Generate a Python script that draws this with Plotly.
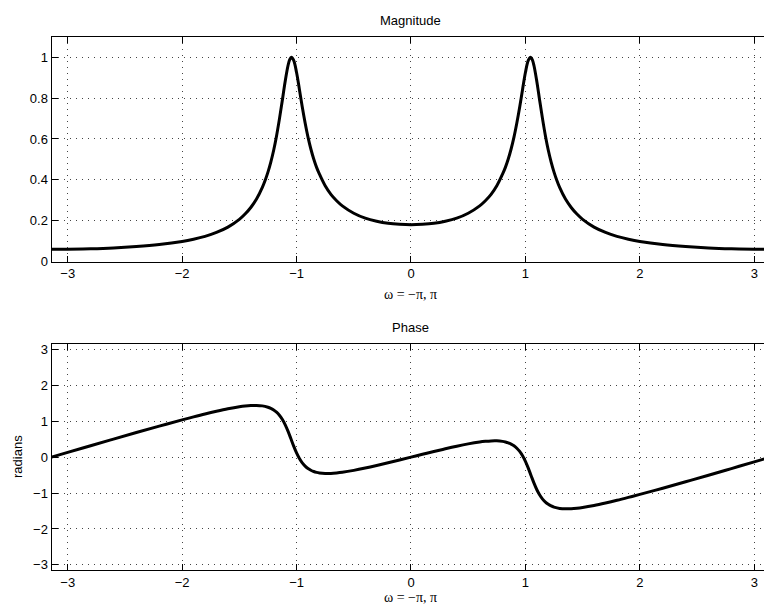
import plotly.graph_objects as go

# Magnitude (normalized)
omega_mag = [-3.1416, -3.0, -2.8, -2.6, -2.4, -2.2, -2.0, -1.9, -1.8, -1.7, -1.6, -1.5, -1.45, -1.4,
             -1.35, -1.3, -1.275, -1.25, -1.225, -1.2, -1.175, -1.15, -1.125, -1.1, -1.075, -1.06,
             -1.045, -1.025, -1.0, -0.975, -0.95, -0.925, -0.9, -0.875, -0.85, -0.825, -0.8, -0.75,
             -0.7, -0.65, -0.6, -0.5, -0.4, -0.3, -0.2, -0.1, 0.0,
             0.1, 0.2, 0.3, 0.4, 0.5, 0.6, 0.65, 0.7, 0.75, 0.8, 0.825, 0.85, 0.875, 0.9, 0.925,
             0.95, 0.975, 1.0, 1.025, 1.045, 1.06, 1.075, 1.1, 1.125, 1.15, 1.175, 1.2, 1.225,
             1.25, 1.275, 1.3, 1.35, 1.4, 1.45, 1.5, 1.6, 1.7, 1.8, 1.9, 2.0, 2.2, 2.4, 2.6, 2.8,
             3.0, 3.1416]
magnitude = [0.061, 0.061, 0.063, 0.067, 0.074, 0.084, 0.099, 0.110, 0.124, 0.143, 0.169, 0.207, 0.233, 0.265,
             0.306, 0.362, 0.397, 0.438, 0.487, 0.545, 0.615, 0.697, 0.787, 0.880, 0.958, 0.988,
             1.0, 0.984, 0.925, 0.842, 0.756, 0.678, 0.609, 0.551, 0.502, 0.461, 0.428, 0.371,
             0.329, 0.298, 0.273, 0.237, 0.213, 0.198, 0.188, 0.183, 0.181,
             0.183, 0.188, 0.198, 0.213, 0.237, 0.273, 0.298, 0.329, 0.371, 0.428, 0.461, 0.502, 0.551, 0.609, 0.678,
             0.756, 0.842, 0.925, 0.984, 1.0, 0.988, 0.958, 0.880, 0.787, 0.697, 0.615, 0.545, 0.487,
             0.438, 0.397, 0.362, 0.306, 0.265, 0.233, 0.207, 0.169, 0.143, 0.124, 0.110, 0.099, 0.084, 0.074, 0.067, 0.063,
             0.061, 0.061]

# Phase (radians)
omega_phase = [-3.1416, -3.0, -2.8, -2.6, -2.4, -2.2, -2.0, -1.9, -1.8, -1.7, -1.6, -1.5, -1.45, -1.4,
               -1.35, -1.3, -1.25, -1.225, -1.2, -1.175, -1.15, -1.125, -1.1, -1.075, -1.05, -1.025,
               -1.0, -0.975, -0.95, -0.925, -0.9, -0.875, -0.85, -0.825, -0.8, -0.75, -0.7, -0.65,
               -0.6, -0.5, -0.4, -0.3, -0.2, -0.1, 0.0,
               0.1, 0.2, 0.3, 0.4, 0.5, 0.6, 0.65, 0.7, 0.75, 0.8, 0.825, 0.85, 0.875, 0.9, 0.925,
               0.95, 0.975, 1.0, 1.025, 1.05, 1.075, 1.1, 1.125, 1.15, 1.175, 1.2, 1.225, 1.25,
               1.3, 1.35, 1.4, 1.45, 1.5, 1.6, 1.7, 1.8, 1.9, 2.0, 2.2, 2.4, 2.6, 2.8, 3.0, 3.1416]
phase = [0.0, 0.132, 0.318, 0.503, 0.685, 0.864, 1.037, 1.121, 1.202, 1.277, 1.345, 1.401, 1.422, 1.435,
         1.439, 1.427, 1.390, 1.359, 1.314, 1.253, 1.168, 1.055, 0.908, 0.725, 0.517, 0.307,
         0.118, -0.038, -0.159, -0.249, -0.317, -0.364, -0.399, -0.423, -0.439, -0.454, -0.453, -0.441,
         -0.422, -0.369, -0.304, -0.232, -0.156, -0.079, 0.0,
         0.079, 0.156, 0.232, 0.304, 0.369, 0.422, 0.441, 0.453, 0.454, 0.439, 0.423, 0.399, 0.364, 0.317, 0.249,
         0.159, 0.038, -0.118, -0.307, -0.517, -0.725, -0.908, -1.055, -1.168, -1.253, -1.314, -1.359, -1.390,
         -1.427, -1.439, -1.435, -1.422, -1.401, -1.345, -1.277, -1.202, -1.121, -1.037, -0.864, -0.685, -0.503,
         -0.318, -0.132, 0.0]

mag_ticks = [0, 0.2, 0.4, 0.6, 0.8, 1]
mag_ticklabels = ["0", "0.2", "0.4", "0.6", "0.8", "1"]
x_ticks = [-3, -2, -1, 0, 1, 2, 3]
phase_ticks = [-3, -2, -1, 0, 1, 2, 3]

W, H = 764, 609
left_px = 51.5
x_range = [-3.1416, 3.085]

fig = go.Figure()
fig.add_trace(go.Scatter(x=omega_mag, y=magnitude, mode="lines",
                         line=dict(color="black", width=3, shape="spline", smoothing=1.0),
                         xaxis="x", yaxis="y", showlegend=False, hoverinfo="skip"))
fig.add_trace(go.Scatter(x=omega_phase, y=phase, mode="lines",
                         line=dict(color="black", width=3, shape="spline", smoothing=1.0),
                         xaxis="x2", yaxis="y2", showlegend=False, hoverinfo="skip"))

tickfont = dict(family="Liberation Sans, Arial, sans-serif", size=13, color="black")
grid = dict(showgrid=True, gridcolor="#444444", gridwidth=1, griddash="1px,5px", zeroline=False)

common_x = dict(range=x_range, tickvals=x_ticks, ticks="inside", ticklen=6, tickcolor="black",
                showline=True, linecolor="black", linewidth=1, mirror="ticks",
                tickfont=tickfont, automargin=False, **grid)
common_y = dict(ticks="inside", ticklen=6, tickcolor="black", showline=True, linecolor="black",
                linewidth=1, mirror=False, tickfont=tickfont, automargin=False, **grid)

dom_x = [left_px / W, 1.0]
fig.update_layout(
    width=W, height=H,
    margin=dict(l=0, r=0, t=0, b=0),
    paper_bgcolor="white", plot_bgcolor="white",
    xaxis=dict(domain=dom_x, anchor="y", **common_x),
    yaxis=dict(domain=[1 - 261.7 / H, 1 - 36.7 / H], anchor="x", range=[0, 1.1],
               tickvals=mag_ticks, ticktext=mag_ticklabels, **common_y),
    xaxis2=dict(domain=dom_x, anchor="y2", **common_x),
    yaxis2=dict(domain=[1 - 570 / H, 1 - 344.3 / H], anchor="x2", range=[-3.1416, 3.1416],
                tickvals=phase_ticks, **common_y),
)

title_font = dict(family="Liberation Sans, Arial, sans-serif", size=13, color="black")
label_font = dict(family="Liberation Serif, Times New Roman, serif", size=14, color="black")
fig.add_annotation(text="Magnitude", x=0, xref="x", y=1 - 21 / H, yref="paper",
                   showarrow=False, font=title_font, yanchor="middle")
fig.add_annotation(text="Phase", x=0, xref="x", y=1 - 327 / H, yref="paper",
                   showarrow=False, font=title_font, yanchor="middle")
fig.add_annotation(text="ω = −π, π", x=0, xref="x", y=1 - 294 / H, yref="paper",
                   showarrow=False, font=label_font, yanchor="middle")
fig.add_annotation(text="ω = −π, π", x=0, xref="x", y=1 - 597 / H, yref="paper",
                   showarrow=False, font=label_font, yanchor="middle")
fig.add_annotation(text="radians", x=17 / W, xref="paper", y=1 - 457 / H, yref="paper",
                   showarrow=False, font=title_font, textangle=-90,
                   xanchor="center", yanchor="middle")

fig.write_html("out.html")
